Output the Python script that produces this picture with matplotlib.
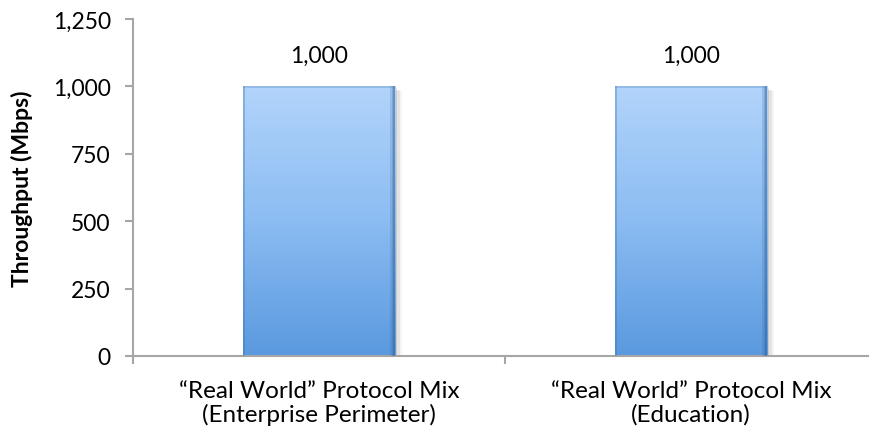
import numpy as np
import matplotlib
matplotlib.use("Agg")
import matplotlib.pyplot as plt
from matplotlib.colors import LinearSegmentedColormap
from matplotlib.patches import Rectangle
from matplotlib.ticker import FuncFormatter, FixedLocator

categories = ["\u201cReal World\u201d Protocol Mix\n(Enterprise Perimeter)",
              "\u201cReal World\u201d Protocol Mix\n(Education)"]
throughput = [1000, 1000]
yticks = [0, 250, 500, 750, 1000, 1250]

plt.rcParams['font.family'] = ['Lato', 'DejaVu Sans']
FS = 16.5

W, H = 870, 439
fig = plt.figure(figsize=(W / 100, H / 100), dpi=100)
ax = fig.add_axes([133 / W, 1 - 357 / H, (877 - 133) / W, (357 - 20) / H])

ax.set_xlim(-0.5, len(categories) - 0.5)
ax.set_ylim(0, 1250)

grad = LinearSegmentedColormap.from_list("barfill", ["#5a99df", "#8bbcf2", "#b2d4fb"])
width = 0.41
for i, v in enumerate(throughput):
    x0 = i - width / 2
    # soft drop shadow to the right
    for k, a in enumerate([0.10, 0.07, 0.04]):
        ax.add_patch(Rectangle((x0 + 0.006 * (k + 1), 0), width, v - 6 * (k + 1),
                               facecolor="#000000", alpha=a, edgecolor="none", zorder=1))
    bar = Rectangle((x0, 0), width, v, facecolor="none", edgecolor="none", zorder=2)
    ax.add_patch(bar)
    img = ax.imshow(np.linspace(0, 1, 256).reshape(-1, 1), cmap=grad, aspect="auto",
                    extent=(x0, x0 + width, 0, v), origin="lower", zorder=2,
                    interpolation="bilinear")
    img.set_clip_path(bar)
    # darker rim on the sides, fading inwards on the right
    for k, a in enumerate([0.55, 0.35, 0.18]):
        ax.add_patch(Rectangle((x0 + width - 0.005 * (k + 1), 0), 0.005, v,
                               facecolor="#2f5c8f", alpha=a, edgecolor="none", zorder=3))
    ax.add_patch(Rectangle((x0, 0), 0.005, v, facecolor="#3d6fa8",
                           alpha=0.35, edgecolor="none", zorder=3))
    ax.add_patch(Rectangle((x0, v - 6), width, 6, facecolor="#5f8fc6",
                           alpha=0.35, edgecolor="none", zorder=3))
    ax.text(i, v + 75, f"{v:,}", ha="center", va="bottom", fontsize=FS, color="#000000")

ax.set_yticks(yticks)
ax.yaxis.set_major_formatter(FuncFormatter(lambda y, p: f"{int(y):,}"))
ax.set_xticks(range(len(categories)))
ax.set_xticklabels(categories, fontsize=17.5, linespacing=1.12)
ax.xaxis.set_minor_locator(FixedLocator([-0.5, 0.5, 1.5]))
ax.tick_params(axis="x", which="major", length=0, pad=17)
ax.tick_params(axis="x", which="minor", length=6, width=1.5, color="#a6a6a6")
ax.tick_params(axis="y", length=6, width=1.5, color="#a6a6a6", labelsize=FS, pad=10)

for s in ["top", "right"]:
    ax.spines[s].set_visible(False)
for s in ["left", "bottom"]:
    ax.spines[s].set_color("#a6a6a6")
    ax.spines[s].set_linewidth(1.5)

ax.set_ylabel("Throughput (Mbps)", fontsize=16.5, fontweight="bold", labelpad=14)

fig.savefig("out.png", dpi=100)
